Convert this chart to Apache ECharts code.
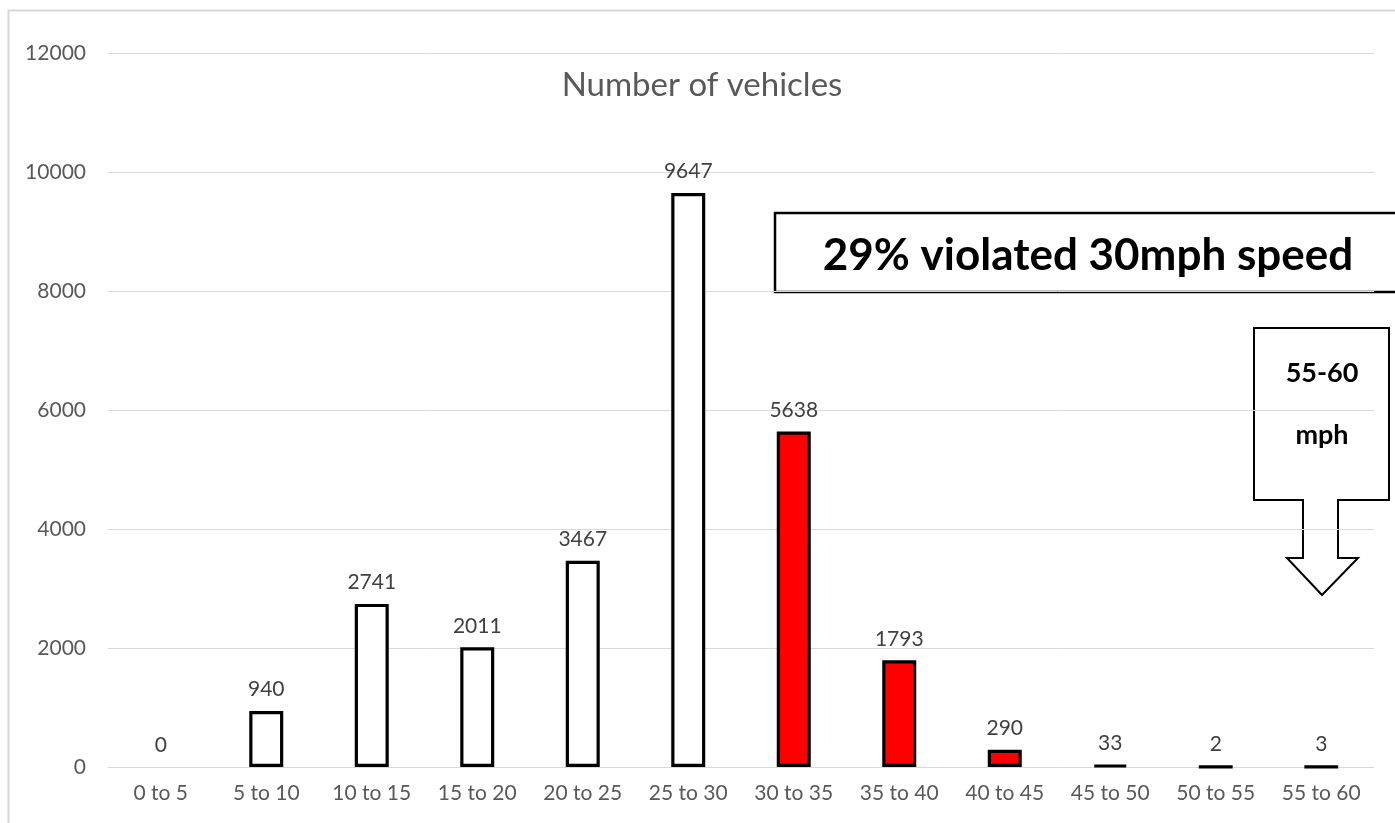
<!DOCTYPE html>
<html>
<head>
<meta charset="utf-8">
<script src="https://cdn.jsdelivr.net/npm/echarts@6/dist/echarts.min.js"></script>
<style>
  html, body { margin: 0; padding: 0; background: #fff; }
  #chart { width: 1395px; height: 823px; }
</style>
</head>
<body>
<div id="chart"></div>
<script>
// speed bands (mph) and vehicle counts
const categories = ['0 to 5', '5 to 10', '10 to 15', '15 to 20', '20 to 25', '25 to 30',
  '30 to 35', '35 to 40', '40 to 45', '45 to 50', '50 to 55', '55 to 60']
const vehicles = [0, 940, 2741, 2011, 3467, 9647, 5638, 1793, 290, 33, 2, 3]
const speeding = [false, false, false, false, false, false, true, true, true, false, false, false]
const yTicks = { min: 0, max: 12000, interval: 2000 }

const font = 'Lato, "Open Sans", sans-serif'

let seriesData = vehicles.map((v, i) => ({
  value: v,
  itemStyle: {
    color: speeding[i] ? '#ff0000' : '#ffffff',
    borderWidth: v === 0 ? 0 : 3.2
  }
}))

let dom = document.getElementById('chart')
let chart = echarts.init(dom, null, { renderer: 'canvas' })

chart.setOption({
  animation: false,
  backgroundColor: '#fff',
  title: {
    text: 'Number of vehicles',
    left: 697,
    top: 64,
    textAlign: 'center',
    textStyle: { fontFamily: font, fontSize: 33, fontWeight: 'normal', color: '#595959' }
  },
  grid: { left: 108, right: 21, top: 53, bottom: 56 },
  xAxis: {
    type: 'category',
    data: categories,
    axisLine: { lineStyle: { color: '#d9d9d9', width: 1 } },
    axisTick: { show: false },
    axisLabel: { fontFamily: font, fontSize: 21, color: '#595959', margin: 16, interval: 0 }
  },
  yAxis: {
    type: 'value',
    min: yTicks.min,
    max: yTicks.max,
    interval: yTicks.interval,
    axisLine: { show: false },
    axisTick: { show: false },
    splitLine: { lineStyle: { color: '#d9d9d9', width: 1 } },
    axisLabel: {
      fontFamily: font, fontSize: 21, color: '#595959', margin: 22,
      formatter: (v) => String(v)
    }
  },
  series: [{
    type: 'bar',
    data: seriesData,
    barWidth: 34,
    itemStyle: { borderColor: '#000', borderWidth: 3.2 },
    label: {
      show: true,
      position: 'top',
      distance: 11,
      fontFamily: font,
      fontSize: 21,
      color: '#404040'
    }
  }],
  graphic: [
    {
      type: 'rect',
      shape: { x: 8.5, y: 10.5, width: 1400, height: 840 },
      style: { fill: 'none', stroke: '#d9d9d9', lineWidth: 2 },
      silent: true,
      z: -10
    },
    {
      type: 'group',
      z: 100,
      children: [
        {
          type: 'rect',
          shape: { x: 775, y: 213, width: 660, height: 79 },
          style: { fill: '#fff', stroke: '#000', lineWidth: 2.5 }
        },
        {
          type: 'text',
          x: 1088,
          y: 256,
          style: {
            text: '29% violated 30mph speed',
            fontFamily: font,
            fontSize: 44,
            fontWeight: 'bold',
            fill: '#000',
            align: 'center',
            verticalAlign: 'middle'
          }
        },
        {
          type: 'polygon',
          shape: {
            points: [[1254, 328], [1389, 328], [1389, 500], [1338, 500], [1338, 558], [1358, 558],
              [1322, 595], [1287, 558], [1303, 558], [1303, 500], [1254, 500]]
          },
          style: { fill: '#fff', stroke: '#000', lineWidth: 2 }
        },
        {
          type: 'text',
          x: 1322,
          y: 373,
          style: {
            text: '55-60',
            fontFamily: font,
            fontSize: 27,
            fontWeight: 'bold',
            fill: '#000',
            align: 'center',
            verticalAlign: 'middle'
          }
        },
        {
          type: 'text',
          x: 1322,
          y: 435,
          style: {
            text: 'mph',
            fontFamily: font,
            fontSize: 27,
            fontWeight: 'bold',
            fill: '#000',
            align: 'center',
            verticalAlign: 'middle'
          }
        }
      ]
    }
  ]
})
</script>
</body>
</html>
